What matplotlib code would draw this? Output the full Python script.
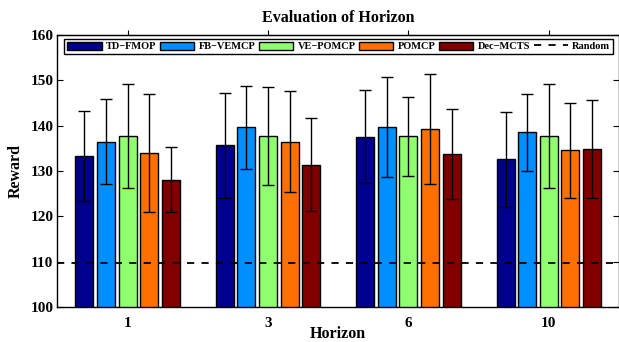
import numpy as np
import matplotlib
matplotlib.use('Agg')
import matplotlib.pyplot as plt

horizons = ['1', '3', '6', '10']
methods = ['TD\u2212FMOP', 'FB\u2212VEMCP', 'VE\u2212POMCP', 'POMCP', 'Dec\u2212MCTS']
colors = ['#00008F', '#008FFF', '#8FFF70', '#FF7000', '#800000']

# mean reward per method, one value per horizon
td_fmop = [133.3, 135.7, 137.6, 132.6]
fb_vemcp = [136.5, 139.6, 139.7, 138.5]
ve_pomcp = [137.7, 137.7, 137.7, 137.7]
pomcp = [134.0, 136.5, 139.3, 134.6]
dec_mcts = [128.1, 131.4, 133.8, 134.9]

# error bar half-widths
td_fmop_err = [9.9, 11.6, 10.2, 10.5]
fb_vemcp_err = [9.4, 9.2, 11.0, 8.5]
ve_pomcp_err = [11.5, 10.8, 8.7, 11.5]
pomcp_err = [13.0, 11.2, 12.1, 10.5]
dec_mcts_err = [7.2, 10.2, 9.9, 10.8]

random_reward = 109.8

means = [td_fmop, fb_vemcp, ve_pomcp, pomcp, dec_mcts]
errs = [td_fmop_err, fb_vemcp_err, ve_pomcp_err, pomcp_err, dec_mcts_err]

plt.rcParams['font.family'] = ['Liberation Serif', 'DejaVu Serif']
plt.rcParams['font.weight'] = 'bold'

fig = plt.figure(figsize=(6.19, 3.42), dpi=100)
ax = fig.add_axes([57.5 / 619, 35 / 342, (619 - 57.5) / 619, (307 - 35) / 342])

x = np.arange(1, len(horizons) + 1)
pitch = 0.154
width = 0.128
handles = []
for i, (m, e, c, name) in enumerate(zip(means, errs, colors, methods)):
    pos = x + (i - 2) * pitch
    b = ax.bar(pos, m, width, bottom=0, color=c, edgecolor='black', linewidth=1.0,
               label=name, zorder=2)
    ax.errorbar(pos, m, yerr=e, fmt='none', ecolor='black', elinewidth=1.0,
                capsize=4, capthick=1.0, zorder=3)
    handles.append(b)

rl = ax.axhline(random_reward, color='black', linestyle='--', linewidth=1.3,
                dashes=(4, 4), label='Random', zorder=4)
handles.append(rl)

ax.set_xlim(0.5, 4.5)
ax.set_ylim(100, 160)
ax.set_yticks(np.arange(100, 161, 10))
ax.set_xticks(x)
ax.set_xticklabels(horizons)
ax.tick_params(axis='y', direction='in', length=4, right=True, labelsize=11, pad=3)
ax.tick_params(axis='x', direction='in', length=0, top=False, labelsize=11, pad=7)
ax.secondary_xaxis('top').set_xticks(x, labels=[])
for sp in ax.spines.values():
    sp.set_linewidth(1.0)

ax.set_title('Evaluation of Horizon', fontsize=11.5, fontweight='bold', pad=9)
ax.set_xlabel('Horizon', fontsize=11.5, fontweight='bold', labelpad=-3)
ax.set_ylabel('Reward', fontsize=11.5, fontweight='bold', labelpad=5)

leg = ax.legend(handles=handles, labels=methods + ['Random'], ncol=6,
                loc='upper left', bbox_to_anchor=(0.012, 0.987), fontsize=7.5,
                frameon=True, fancybox=False, edgecolor='black', framealpha=1,
                handlelength=3.3, handleheight=0.8, handletextpad=0.4,
                columnspacing=0.35, borderpad=0.3, borderaxespad=0)
leg.get_frame().set_linewidth(1.0)

fig.savefig('out.png', dpi=100)
